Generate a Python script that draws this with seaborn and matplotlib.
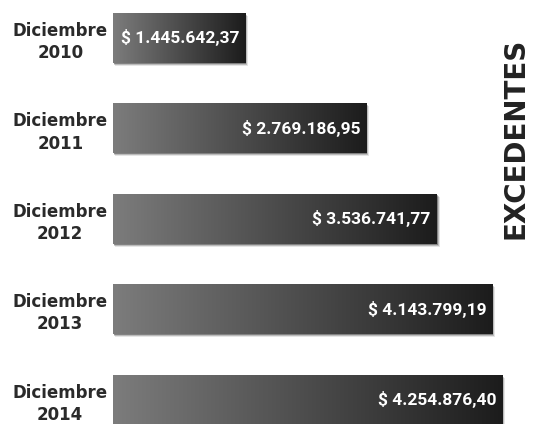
import numpy as np
import pandas as pd
import matplotlib
matplotlib.use("Agg")
import matplotlib.pyplot as plt
from matplotlib.colors import LinearSegmentedColormap
from matplotlib.patches import Rectangle
import seaborn as sns

# Surplus at the end of each year
periods = ["Diciembre\n2010", "Diciembre\n2011", "Diciembre\n2012",
           "Diciembre\n2013", "Diciembre\n2014"]
surplus = [1445642.37, 2769186.95, 3536741.77, 4143799.19, 4254876.40]
value_labels = ["$ 1.445.642,37", "$ 2.769.186,95", "$ 3.536.741,77",
                "$ 4.143.799,19", "$ 4.254.876,40"]
title = "EXCEDENTES"

df = pd.DataFrame({"periodo": periods, "excedente": surplus})

sns.set_theme(style="white")
plt.rcParams["font.family"] = ["DejaVu Sans"]

W, H, DPI = 536, 424, 100
fig = plt.figure(figsize=(W / DPI, H / DPI), dpi=DPI)
fig.patch.set_facecolor("white")
ax = fig.add_axes([113 / W, 0, 1 - 113 / W, 1])

bar_h = 0.553
sns.barplot(data=df, x="excedente", y="periodo", orient="h",
            width=bar_h, color="#444444", ax=ax, saturation=1)

ax.set_xlim(0, (W - 113) / 91.5 * 1e6)
ax.set_ylim(4 + 24.5 / 90.4, -38 / 90.4)

cmap = LinearSegmentedColormap.from_list("bar", ["#7c7c7c", "#4c4c4c", "#1c1c1c"])
grad = np.linspace(0, 1, 256).reshape(1, -1)

px_x = (ax.get_xlim()[1]) / (W - 113)          # data units per pixel (x)
px_y = (ax.get_ylim()[0] - ax.get_ylim()[1]) / H  # data units per pixel (y)

for patch, lab in zip(ax.patches, value_labels):
    x0, y0 = patch.get_x(), patch.get_y()
    w, h = patch.get_width(), patch.get_height()
    # soft drop shadow
    for k, a in [(3.0, 0.10), (2.0, 0.18), (1.0, 0.30)]:
        ax.add_patch(Rectangle((x0 + k * px_x * 0.5, y0 + k * px_y),
                               w + k * px_x * 0.5, h,
                               facecolor="#000000", alpha=a, lw=0, zorder=1))
    patch.set_facecolor("none")
    patch.set_edgecolor("none")
    patch.set_zorder(3)
    im = ax.imshow(grad, cmap=cmap, aspect="auto", zorder=2,
                   extent=(x0, x0 + w, y0 + h, y0), interpolation="bicubic")
    im.set_clip_path(patch)
    ax.text(x0 + w - 6 * px_x, y0 + h / 2, lab, ha="right", va="center",
            color="white", fontsize=12.5, fontweight="bold",
            family=["Roboto", "DejaVu Sans"], zorder=4)

ax.set_xlabel("")
ax.set_ylabel("")
ax.set_xticks([])
ax.tick_params(axis="y", length=0, pad=38)
for t in ax.get_yticklabels():
    t.set_ha("center")
    t.set_multialignment("center")
    t.set_fontsize(12)
    t.set_fontweight("bold")
    t.set_color("#2a2a2a")
    t.set_linespacing(1.3)
sns.despine(ax=ax, left=True, bottom=True)
ax.set_facecolor("none")

fig.text(515 / W, 1 - 138 / H, title, rotation=90, ha="center", va="center",
         fontsize=20, fontweight="bold", color="#222222")

fig.savefig("out.png", dpi=DPI, facecolor="white")
